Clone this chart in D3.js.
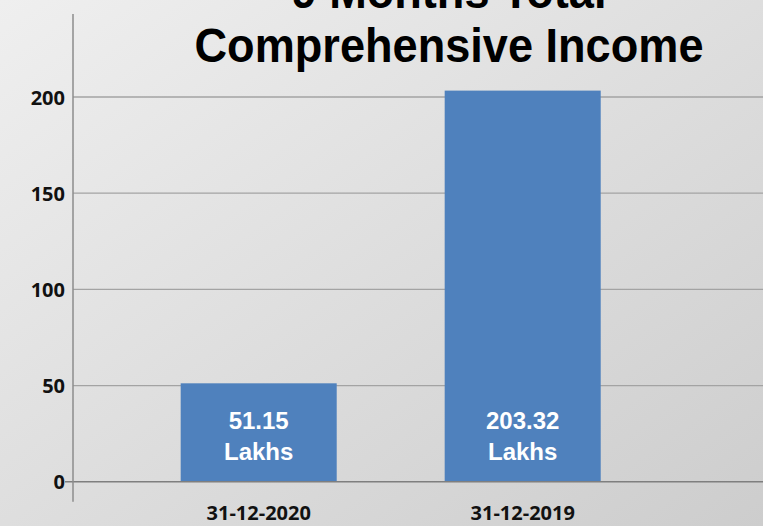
<!DOCTYPE html>
<html lang="en">
<head>
<meta charset="UTF-8" />
<title>9 Months Total Comprehensive Income</title>
<script src="https://cdn.jsdelivr.net/npm/d3@7"></script>
<style>
html,body{margin:0;padding:0;overflow:hidden}
svg{display:block}
.tick text{font-family:"Open Sans",Lato,sans-serif;font-weight:700;fill:#111}
</style>
</head>
<body>
<svg id="chart" width="763" height="526"></svg>
<script>
/* ===== data ===== */
const titleLines=['9 Months Total','Comprehensive Income'];
const categories=['31-12-2020','31-12-2019'];
const values=[51.15,203.32];
const valueLabels=['51.15','203.32'];
const unitLabel='Lakhs';
const yTicks=[0,50,100,150,200];

/* ===== layout ===== */
const W=763,H=526,axisX=73;
const svg=d3.select('#chart');

/* background gradient */
const defs=svg.append('defs');
const grad=defs.append('linearGradient').attr('id','bg').attr('x1','0').attr('y1','0').attr('x2','1').attr('y2','1');
grad.append('stop').attr('offset','0%').attr('stop-color','#efefef');
grad.append('stop').attr('offset','100%').attr('stop-color','#cdcdcd');
svg.append('rect').attr('width',W).attr('height',H).attr('fill','url(#bg)');

const x=d3.scaleBand().domain(categories).range([126.7,654.7]).paddingInner(0.409).paddingOuter(0.2045);
const y=d3.scaleLinear().domain([0,200]).range([481.7,97]);

/* gridlines */
svg.append('g').selectAll('line').data(yTicks.filter(d=>d>0)).join('line')
  .attr('x1',axisX).attr('x2',W).attr('y1',d=>y(d)).attr('y2',d=>y(d))
  .attr('stroke','#a3a3a3').attr('stroke-width',1.3);

/* bars */
svg.append('g').selectAll('rect').data(values).join('rect')
  .attr('x',(d,i)=>x(categories[i])).attr('width',x.bandwidth())
  .attr('y',d=>y(d)).attr('height',d=>y(0)-y(d))
  .attr('fill','#4f81bd');

/* zero baseline */
svg.append('line').attr('x1',65).attr('x2',W).attr('y1',y(0)).attr('y2',y(0))
  .attr('stroke','#7f7f7f').attr('stroke-width',1.5);

/* y axis */
const yAxis=svg.append('g').attr('transform',`translate(${axisX},0)`)
  .call(d3.axisLeft(y).tickValues(yTicks).tickSize(0).tickPadding(8));
yAxis.select('.domain').remove();
yAxis.selectAll('text').attr('font-size',20).attr('dy','0.36em');
svg.append('line').attr('x1',axisX).attr('x2',axisX).attr('y1',14).attr('y2',501.7)
  .attr('stroke','#8c8c8c').attr('stroke-width',1.5);

/* x axis labels */
const xAxis=svg.append('g').attr('transform',`translate(0,${y(0)})`)
  .call(d3.axisBottom(x).tickSize(0).tickPadding(0));
xAxis.select('.domain').remove();
xAxis.selectAll('text').attr('font-size',20).attr('dy',null).attr('y',38.5);

/* value labels inside bars */
const lbl=svg.append('g').attr('font-family','"Liberation Sans",Arial,sans-serif')
  .attr('font-weight',700).attr('fill','#fff').attr('text-anchor','middle').attr('font-size',24);
lbl.selectAll('text.v').data(valueLabels).join('text').attr('class','v')
  .attr('x',(d,i)=>x(categories[i])+x.bandwidth()/2).attr('y',y(0)-53).text(d=>d);
lbl.selectAll('text.u').data(valueLabels).join('text').attr('class','u')
  .attr('x',(d,i)=>x(categories[i])+x.bandwidth()/2).attr('y',y(0)-22).text(unitLabel);

/* title (top line is cropped by the frame, as in the original) */
svg.append('g').attr('transform','translate(449,0) scale(0.94,1)')
  .selectAll('text').data(titleLines).join('text')
  .attr('x',0).attr('y',(d,i)=>7.5+i*54.2)
  .attr('text-anchor','middle').attr('font-family','"Liberation Sans",Arial,sans-serif')
  .attr('font-weight',700).attr('font-size',48).attr('fill','#000').text(d=>d);
</script>
</body>
</html>
